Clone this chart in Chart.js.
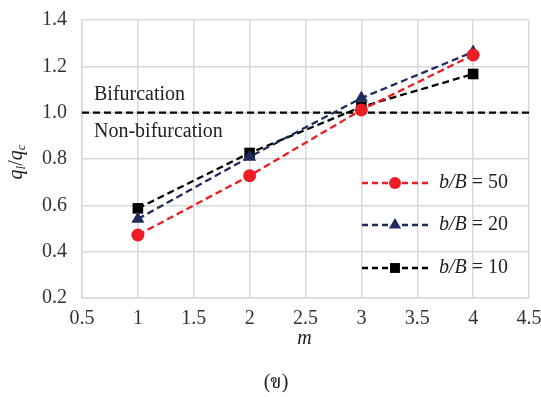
<!DOCTYPE html>
<html>
<head>
  <meta charset="UTF-8">
  <title>q_l/q_c vs m</title>
  <script src="https://cdn.jsdelivr.net/npm/chart.js"></script>
  <style>
    body { margin: 0; background: #fff; }
    #wrap { width: 541px; height: 397px; }
  </style>
</head>
<body>
  <div id="wrap"><canvas id="chart"></canvas></div>
  <script>
    // data
    const mValues = [1, 2, 3, 4];
    const ratio50 = [0.472, 0.728, 1.012, 1.249];
    const ratio20 = [0.541, 0.809, 1.063, 1.262];
    const ratio10 = [0.587, 0.826, 1.025, 1.167];
    const seriesNames = ['50', '20', '10'];
    const xRange = [0.5, 4.5];
    const yRange = [0.2, 1.4];
    const boundaryLevel = 1.0;

    const SERIF = '"Liberation Serif", "Times New Roman", serif';
    const THAI = '"Liberation Serif", "Noto Serif Thai", "Noto Sans Thai", "Noto Sans", "DejaVu Sans", serif';
    const DASH = [7, 4];
    const toPoints = ys => mValues.map((m, i) => ({ x: m, y: ys[i] }));

    const seriesStyle = [
      { color: '#ee1d25', point: 'circle', radius: 6.5 },
      { color: '#1f2a5e', point: 'triangle', radius: 7.5 },
      { color: '#000000', point: 'rect', radius: 7.5 }
    ];
    const seriesData = [ratio50, ratio20, ratio10];

    const datasets = seriesData.map((ys, i) => ({
      label: 'b/B = ' + seriesNames[i],
      data: toPoints(ys),
      borderColor: seriesStyle[i].color,
      backgroundColor: seriesStyle[i].color,
      borderWidth: 2.3,
      borderDash: DASH,
      pointStyle: seriesStyle[i].point,
      pointRadius: seriesStyle[i].radius,
      pointBorderWidth: 0,
      tension: 0
    }));
    datasets.push({
      label: 'boundary',
      data: xRange.map(x => ({ x: x, y: boundaryLevel })),
      borderColor: '#000',
      borderWidth: 2.3,
      borderDash: DASH,
      pointRadius: 0
    });

    // draws the in-plot labels, legend, axis titles and caption
    const decorations = {
      id: 'decorations',
      afterDraw(chart) {
        const ctx = chart.ctx;
        const xs = chart.scales.x, ys = chart.scales.y;
        const area = chart.chartArea;
        ctx.save();
        ctx.fillStyle = '#222';
        ctx.font = '20px ' + SERIF;
        ctx.textAlign = 'left';
        ctx.textBaseline = 'alphabetic';
        const lx = xs.getPixelForValue(xRange[0]) + 12;
        const ly = ys.getPixelForValue(boundaryLevel);
        ctx.fillText('Bifurcation', lx, ly - 13);
        ctx.fillText('Non-bifurcation', lx, ly + 24);

        // legend
        const rowY = [183, 225, 268];
        seriesStyle.forEach((s, i) => {
          const y = rowY[i];
          ctx.strokeStyle = s.color;
          ctx.lineWidth = 2.3;
          ctx.setLineDash([6, 4]);
          ctx.beginPath();
          ctx.moveTo(362, y);
          ctx.lineTo(430, y);
          ctx.stroke();
          ctx.setLineDash([]);
          ctx.fillStyle = s.color;
          Chart.helpers.drawPoint(ctx, { pointStyle: s.point, radius: s.radius - 0.5, borderWidth: 0 }, 395, y);
          ctx.fillStyle = '#222';
          ctx.textBaseline = 'middle';
          ctx.font = 'italic 20px ' + SERIF;
          ctx.fillText('b/B', 439, y);
          const w = ctx.measureText('b/B').width;
          ctx.font = '20px ' + SERIF;
          ctx.fillText(' = ' + seriesNames[i], 439 + w, y);
        });

        // x title
        ctx.font = 'italic 20px ' + SERIF;
        ctx.textAlign = 'center';
        ctx.textBaseline = 'middle';
        ctx.fillText('m', (area.left + area.right) / 2 - 1, 339);

        // caption
        ctx.font = '20px ' + THAI;
        ctx.fillText('(ข)', 276, 383);

        // y title q_l / q_c rotated
        ctx.translate(17, 162);
        ctx.rotate(-Math.PI / 2);
        const parts = [
          { t: 'q', f: 'italic 20px ', dy: 0 },
          { t: 'l', f: 'italic 13px ', dy: 5 },
          { t: '/', f: '20px ', dy: 0 },
          { t: 'q', f: 'italic 20px ', dy: 0 },
          { t: 'c', f: 'italic 13px ', dy: 5 }
        ];
        let total = 0;
        parts.forEach(p => { ctx.font = p.f + SERIF; p.w = ctx.measureText(p.t).width; total += p.w; });
        let cx = -total / 2;
        ctx.textAlign = 'left';
        ctx.textBaseline = 'middle';
        parts.forEach(p => {
          ctx.font = p.f + SERIF;
          ctx.fillText(p.t, cx, p.dy);
          cx += p.w;
        });
        ctx.restore();
      }
    };

    new Chart(document.getElementById('chart'), {
      type: 'line',
      data: { datasets: datasets },
      options: {
        responsive: true,
        maintainAspectRatio: false,
        animation: false,
        layout: { padding: { top: 20, right: 12, left: 0, bottom: 0 } },
        plugins: { legend: { display: false }, tooltip: { enabled: false } },
        scales: {
          x: {
            type: 'linear',
            min: xRange[0], max: xRange[1],
            grid: { color: '#d9d9d9', lineWidth: 1.5, drawTicks: false },
            border: { color: '#d9d9d9', width: 1.5 },
            ticks: {
              stepSize: 0.5, padding: 9, color: '#333', maxRotation: 0, autoSkip: false,
              font: { family: SERIF, size: 20 },
              callback: v => String(v)
            },
            afterFit: s => { s.height = 99; s.paddingLeft = 0; s.paddingRight = 0; }
          },
          y: {
            min: yRange[0], max: yRange[1],
            grid: { color: '#d9d9d9', lineWidth: 1.5, drawTicks: false },
            border: { color: '#d9d9d9', width: 1.5 },
            ticks: {
              stepSize: 0.2, padding: 15, color: '#333',
              font: { family: SERIF, size: 20 },
              callback: v => v.toFixed(1)
            },
            afterFit: s => { s.width = 82; s.paddingTop = 0; s.paddingBottom = 0; }
          }
        }
      },
      plugins: [decorations]
    });
  </script>
</body>
</html>
